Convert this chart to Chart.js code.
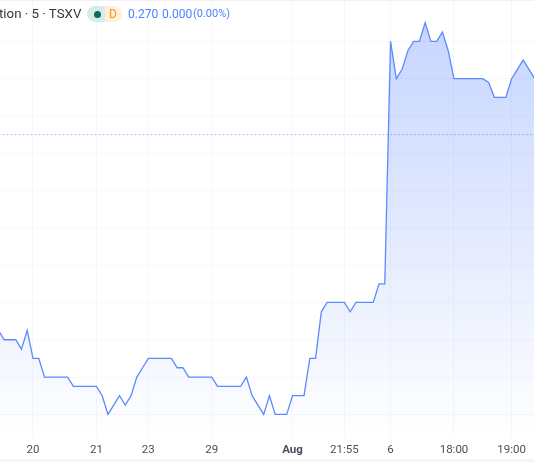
<!DOCTYPE html>
<html>
<head>
<meta charset="utf-8">
<script src="https://cdn.jsdelivr.net/npm/chart.js@4"></script>
<style>
  html, body { margin: 0; padding: 0; background: #fff; width: 534px; height: 462px; overflow: hidden; }
  #wrap { position: relative; width: 534px; height: 462px; font-family: Roboto, sans-serif; }
  canvas { position: absolute; left: 0; top: 0; }
  #topline { position: absolute; left: 0; top: 0; width: 534px; height: 1px; background: #f0f1f3; }
  #bottomline { position: absolute; left: 0; top: 459px; width: 534px; height: 3px; background: #f5f5f6; }
  .t { position: absolute; top: 5px; line-height: 18px; white-space: nowrap; }
  #title { left: -1px; font-size: 13.3px; color: #333742; }
  #pill-a { position: absolute; left: 87px; top: 6px; width: 18px; height: 16px; background: #d7ece8; border-radius: 8px 0 0 8px; }
  #dot { position: absolute; left: 93.5px; top: 10.5px; width: 7px; height: 7px; border-radius: 50%; background: #0c6b5c; }
  #pill-b { position: absolute; left: 105px; top: 6px; width: 17px; height: 16px; background: #ffefdd; border-radius: 0 8px 8px 0; }
  #d { left: 109px; font-size: 12px; color: #ff9310; }
  .p { font-size: 12px; color: #4f80ff; }
  #pct { font-size: 11px; }
</style>
</head>
<body>
<div id="wrap">
  <canvas id="chart" width="534" height="459"></canvas>
  <div id="topline"></div>
  <div id="bottomline"></div>
  <div class="t" id="title">tion · 5 · TSXV</div>
  <div id="pill-a"></div><div id="dot"></div>
  <div id="pill-b"></div><div class="t" id="d">D</div>
  <div class="t p" style="left:128px">0.270</div>
  <div class="t p" style="left:162px">0.000</div>
  <div class="t p" id="pct" style="left:193px">(0.00%)</div>
</div>
<script>
// closes (one per bar)
var closes = [
  0.2175, 0.215, 0.215, 0.215, 0.2125, 0.2175, 0.21, 0.21, 0.205, 0.205,
  0.205, 0.205, 0.205, 0.2025, 0.2025, 0.2025, 0.2025, 0.2025, 0.20, 0.195,
  0.1975, 0.20, 0.1975, 0.20, 0.205, 0.2075, 0.21, 0.21, 0.21, 0.21,
  0.21, 0.2075, 0.2075, 0.205, 0.205, 0.205, 0.205, 0.205, 0.2025, 0.2025,
  0.2025, 0.2025, 0.2025, 0.205, 0.20, 0.1975, 0.195, 0.20, 0.195, 0.195,
  0.195, 0.20, 0.20, 0.20, 0.21, 0.21, 0.2225, 0.225, 0.225, 0.225,
  0.225, 0.2225, 0.225, 0.225, 0.225, 0.225, 0.23, 0.23, 0.295, 0.285,
  0.2875, 0.2925, 0.295, 0.295, 0.30, 0.295, 0.295, 0.2975, 0.2925, 0.285,
  0.285, 0.285, 0.285, 0.285, 0.285, 0.284, 0.28, 0.28, 0.28, 0.285,
  0.2875, 0.29, 0.2875, 0.285
];
var lastPrice = 0.27;
var tickBars = [6, 17, 26, 37, 51, 60, 68, 79, 89];
var tickLabels = ['20', '21', '23', '29', 'Aug', '21:55', '6', '18:00', '19:00'];
var priceGrid = [0.205, 0.215, 0.225, 0.235, 0.245, 0.255, 0.265, 0.275, 0.285, 0.295, 0.195];

var closeData = closes.map(function (v, i) { return { x: i, y: v }; });
var lastData = closes.map(function (v, i) { return { x: i, y: lastPrice }; });

new Chart(document.getElementById('chart'), {
  type: 'line',
  data: {
    datasets: [{
      data: closeData,
      borderColor: '#5b8aff',
      borderWidth: 1.3,
      pointRadius: 0,
      tension: 0,
      fill: 'start',
      backgroundColor: function (ctx) {
        var area = ctx.chart.chartArea;
        if (!area) return 'rgba(41,98,255,0.2)';
        var g = ctx.chart.ctx.createLinearGradient(0, area.top, 0, area.bottom);
        g.addColorStop(0, 'rgba(41,98,255,0.28)');
        g.addColorStop(1, 'rgba(41,98,255,0)');
        return g;
      }
    }, {
      data: lastData,
      borderColor: 'rgba(41,98,255,0.4)',
      borderWidth: 1,
      borderDash: [2, 2],
      pointRadius: 0,
      fill: false
    }]
  },
  options: {
    responsive: false,
    animation: false,
    layout: { padding: 0 },
    plugins: { legend: { display: false }, tooltip: { enabled: false } },
    scales: {
      x: {
        type: 'linear',
        min: 0.278,
        max: 92.875,
        afterBuildTicks: function (axis) {
          axis.ticks = tickBars.map(function (b) { return { value: b }; });
        },
        afterFit: function (axis) { axis.height = 22; },
        border: { display: false },
        grid: { color: '#f6f7f9', drawTicks: false },
        ticks: {
          autoSkip: false,
          maxRotation: 0,
          padding: 6,
          color: '#4a4e59',
          font: function (ctx) {
            return { family: 'Roboto', size: 11.5, weight: ctx.index === 4 ? 'bold' : 'normal' };
          },
          callback: function (v, i) { return tickLabels[i]; }
        }
      },
      y: {
        min: 0.18893,
        max: 0.30609,
        afterBuildTicks: function (axis) {
          axis.ticks = priceGrid.map(function (p) { return { value: p }; });
        },
        afterFit: function (axis) { axis.width = 0; },
        border: { display: false },
        grid: { color: '#f6f7f9', drawTicks: false },
        ticks: { display: false }
      }
    }
  }
});
</script>
</body>
</html>
